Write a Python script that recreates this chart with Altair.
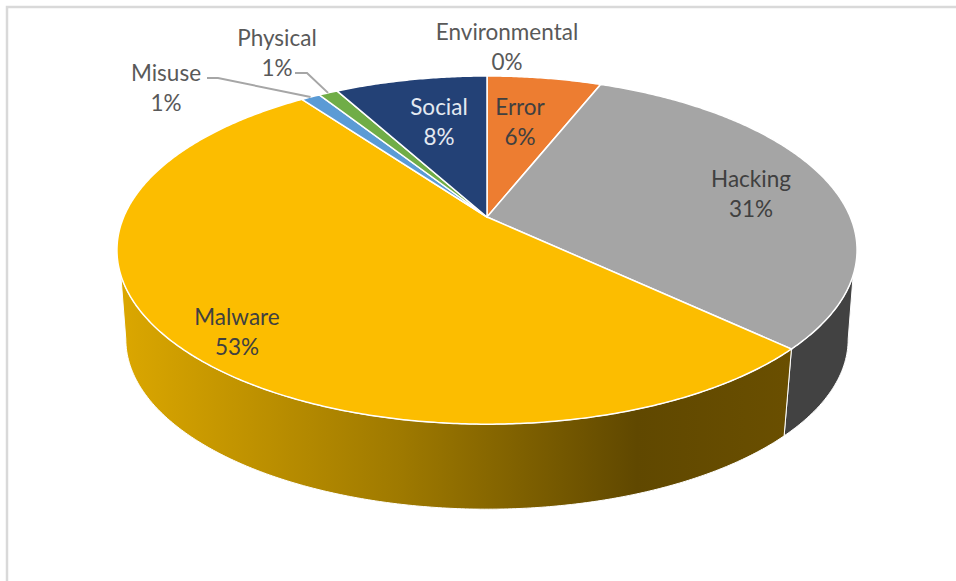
import math
import altair as alt
import pandas as pd

# Breach action shares, clockwise from twelve o'clock
categories = ["Environmental", "Error", "Hacking", "Malware", "Misuse", "Physical", "Social"]
shares = [0, 6, 31, 53, 1, 1, 8]
top_colors = ["#7F7F7F", "#ED7D31", "#A5A5A5", "#FCBD00", "#5B9BD5", "#70AD47", "#234176"]
label_colors = ["#595959", "#404040", "#404040", "#404040", "#595959", "#595959", "#E4E9F1"]

# Label anchors, in pixels
label_x = [507, 520, 751, 237, 166, 277, 439]
label_y = [33, 108, 180, 318, 74, 39, 108]

WIDTH, HEIGHT = 956, 581
APEX_X, APEX_Y = 487, 217
RADIUS_X, RADIUS_Y = 363.3, 167.8
PERSPECTIVE = 0.19
FLOOR_SCALE, FLOOR_Y = 0.976, 307
STEP = 0.5


def rim(angle, floor=False):
    """Project a disc angle (degrees clockwise from the top) to the screen."""
    t = math.radians(angle)
    d = 1 + PERSPECTIVE * math.cos(t)
    x, y = RADIUS_X * math.sin(t) / d, -RADIUS_Y * math.cos(t) / d
    if floor:
        return [APEX_X + FLOOR_SCALE * x, FLOOR_Y + FLOOR_SCALE * y]
    return [APEX_X + x, APEX_Y + y]


def sweep(a, b, floor=False):
    n = max(1, int(abs(b - a) / STEP))
    return [rim(a + (b - a) * i / n, floor) for i in range(n + 1)]


def feature(ring, **props):
    ring = ring + [ring[0]]
    return {"type": "Feature", "properties": props,
            "geometry": {"type": "Polygon", "coordinates": [ring]}}


def shape(features, **mark):
    return alt.Chart(alt.Data(values=features)).mark_geoshape(**mark).project(
        type="identity", scale=1, translate=[0, 0]
    )


# Slice boundaries in degrees
edges = [0]
for s in shares:
    edges.append(edges[-1] + s * 3.6)
span = {c: (edges[i], edges[i + 1]) for i, c in enumerate(categories)}

# Side walls: the near rim of the top disc joined to the floor rim
hack_end = span["Hacking"][1]
wall_hacking = feature(sweep(109, hack_end) + sweep(hack_end, 101, True), name="Hacking")
wall_malware = feature(sweep(hack_end, 251) + sweep(259, hack_end, True), name="Malware")

malware_fade = alt.LinearGradient(
    gradient="linear", x1=0, x2=1, y1=0, y2=0,
    stops=[
        alt.GradientStop(offset=0, color="#DBA700"),
        alt.GradientStop(offset=0.42, color="#9E7900"),
        alt.GradientStop(offset=0.77, color="#604800"),
        alt.GradientStop(offset=1, color="#6A4F00"),
    ],
)

layers = [
    shape([wall_hacking], fill="#424242", stroke="white", strokeWidth=1),
    shape([wall_malware], fill=malware_fade, stroke="white", strokeWidth=1),
]

# Top face, one polygon per non-empty slice
for cat, col in zip(categories, top_colors):
    a, b = span[cat]
    if b > a:
        ring = [[APEX_X, APEX_Y]] + sweep(a, b)
        layers.append(shape([feature(ring, name=cat)], fill=col, stroke="white", strokeWidth=1.5))

# Frame along the left and top of the panel
frame = pd.DataFrame({"x": [7, 7, WIDTH], "y": [HEIGHT, 7, 7], "o": [0, 1, 2]})
layers.append(
    alt.Chart(frame).mark_line(color="#D9D9D9", strokeWidth=2.5).encode(
        x=alt.X("x:Q", scale=None), y=alt.Y("y:Q", scale=None), order="o:Q"
    )
)

# Leader lines for the two thin slices
mis = rim(sum(span["Misuse"]) / 2)
phy = rim(sum(span["Physical"]) / 2)
leaders = pd.DataFrame({
    "x": [207, 218, mis[0], 295, 307, phy[0]],
    "y": [78, 78, mis[1], 73, 73, phy[1]],
    "o": [0, 1, 2, 0, 1, 2],
    "name": ["Misuse"] * 3 + ["Physical"] * 3,
})
layers.append(
    alt.Chart(leaders).mark_line(color="#A6A6A6", strokeWidth=2).encode(
        x=alt.X("x:Q", scale=None), y=alt.Y("y:Q", scale=None),
        detail="name:N", order="o:Q",
    )
)

# Category and percentage labels
labels = pd.DataFrame({
    "text": [f"{c}\n{v}%" for c, v in zip(categories, shares)],
    "x": label_x, "y": label_y, "ink": label_colors,
})
layers.append(
    alt.Chart(labels).mark_text(
        font="Lato", fontSize=22.5, lineBreak="\n", lineHeight=29.5,
        align="center", baseline="middle",
    ).encode(
        x=alt.X("x:Q", scale=None), y=alt.Y("y:Q", scale=None),
        text="text:N", color=alt.Color("ink:N", scale=None),
    )
)

chart = alt.layer(*layers).properties(
    width=WIDTH, height=HEIGHT, padding=0,
    autosize=alt.AutoSizeParams(type="none"),
    background="white",
).configure_view(stroke=None)

chart.save("out.html", embed_options={"renderer": "svg", "actions": False})
